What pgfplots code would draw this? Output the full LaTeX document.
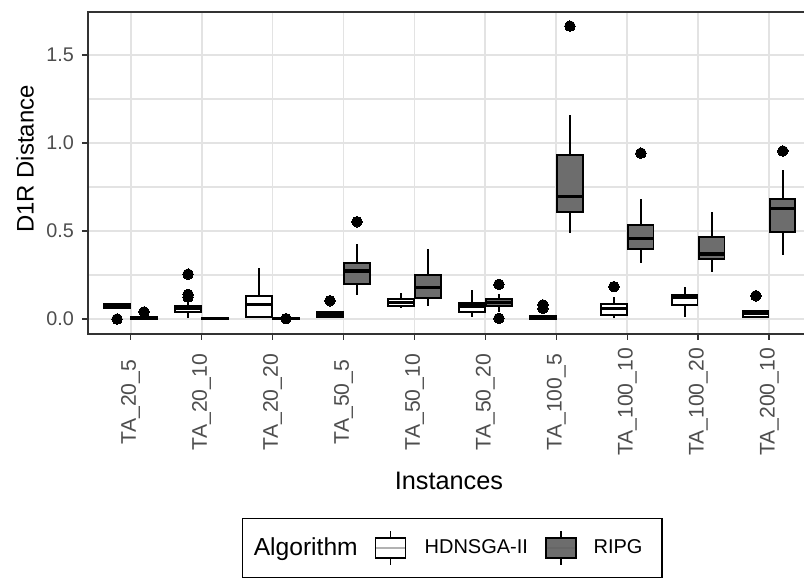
\documentclass[border=0pt]{standalone}
\usepackage{fontspec}
\setmainfont{Liberation Sans}
\usepackage{pgfplots}
\pgfplotsset{compat=1.18}
\usepgfplotslibrary{statistics}
\definecolor{ripg}{HTML}{6D6D6D}
\definecolor{gridc}{HTML}{E3E3E3}
\definecolor{tickc}{HTML}{4D4D4D}
\pgfplotsset{
  bx/.style={forget plot, draw=black, line width=0.85pt,
    mark=*, mark size=2.3pt, mark options={fill=black, draw=black, line width=0pt},
    boxplot/draw direction=y,
    boxplot/box extend=0.355,
    boxplot/whisker extend=0,
    boxplot/every median/.style={line width=1.4pt}},
  H/.style={bx, boxplot/every box/.style={fill=white}},
  R/.style={bx, boxplot/every box/.style={fill=ripg}},
}
\begin{document}
\begin{tikzpicture}
\begin{axis}[
  scale only axis, width=314.8pt, height=140pt,
  xmin=0.4, xmax=10.6, ymin=-0.085, ymax=1.745,
  clip=false,
  xtick={1,...,10},
  xticklabels={TA\_20\_5,TA\_20\_10,TA\_20\_20,TA\_50\_5,TA\_50\_10,TA\_50\_20,TA\_100\_5,TA\_100\_10,TA\_100\_20,TA\_200\_10},
  ytick={0,0.5,1,1.5}, yticklabels={0.0,0.5,1.0,1.5},
  minor ytick={0.25,0.75,1.25},
  grid=major, yminorgrids=true,
  major grid style={gridc, line width=0.85pt},
  minor grid style={gridc, line width=0.75pt},
  minor tick length=0pt,
  tick align=outside, tick pos=left, major tick length=2.6pt,
  tick style={black!80, line width=0.8pt},
  axis line style={draw=none},
  yticklabel style={font=\fontsize{8.6}{10}\selectfont, text=tickc},
  xticklabel style={font=\fontsize{9.2}{10}\selectfont, text=tickc, rotate=90, anchor=center},
  xticklabel shift=27pt,
  xlabel={Instances}, ylabel={D1R Distance},
  xlabel style={font=\fontsize{11}{12}\selectfont, at={(axis description cs:0.4986,-0.4565)}, anchor=center},
  ylabel style={font=\fontsize{10.4}{12}\selectfont, at={(axis description cs:-0.087,0.543)}, anchor=center, rotate=0},
  legend style={at={(0.503,-0.665)}, anchor=center, draw=black, line width=0.6pt,
    legend columns=3, font=\fontsize{8.7}{10}\selectfont,
    inner xsep=3pt, inner ysep=5pt,
    /tikz/every even column/.append style={column sep=5.4pt},
    /tikz/column 3/.append style={column sep=6pt},
    /tikz/column 5/.append style={column sep=5.4pt}},
]
\addlegendimage{empty legend}
\addlegendentry{\fontsize{10.7}{12}\selectfont Algorithm}
\addlegendimage{legend image code/.code={
  \draw[black, line width=0.7pt, fill=white] (0pt,-4.3pt) rectangle (13pt,4.3pt);
  \draw[black, line width=0.7pt] (6.5pt,4.3pt) -- (6.5pt,7.4pt) (6.5pt,-4.3pt) -- (6.5pt,-7.4pt);
  \draw[black!30, line width=0.9pt] (0.4pt,0pt) -- (12.6pt,0pt);}}
\addlegendentry{HDNSGA-II}
\addlegendimage{legend image code/.code={
  \draw[black, line width=0.7pt, fill=ripg] (0pt,-4.3pt) rectangle (13pt,4.3pt);
  \draw[black, line width=0.7pt] (6.5pt,4.3pt) -- (6.5pt,7.4pt) (6.5pt,-4.3pt) -- (6.5pt,-7.4pt);
  \draw[black!60, line width=0.9pt] (0.4pt,0pt) -- (12.6pt,0pt);}}
\addlegendentry{RIPG\hspace*{3.5pt}}

% HDNSGA-II
\addplot[H, boxplot prepared={draw position=0.81, lower whisker=0.06, lower quartile=0.065, median=0.075, upper quartile=0.085, upper whisker=0.09}] table[row sep=\\,y index=0] {y\\ 0.0\\};
\addplot[H, boxplot prepared={draw position=1.81, lower whisker=0.005, lower quartile=0.041, median=0.06, upper quartile=0.075, upper whisker=0.09}] table[row sep=\\,y index=0] {y\\ 0.125\\ 0.14\\ 0.255\\};
\addplot[H, boxplot prepared={draw position=2.81, lower whisker=0.005, lower quartile=0.013, median=0.083, upper quartile=0.132, upper whisker=0.29}] coordinates {};
\addplot[H, boxplot prepared={draw position=3.81, lower whisker=0.005, lower quartile=0.013, median=0.025, upper quartile=0.038, upper whisker=0.045}] table[row sep=\\,y index=0] {y\\ 0.104\\};
\addplot[H, boxplot prepared={draw position=4.81, lower whisker=0.06, lower quartile=0.074, median=0.095, upper quartile=0.114, upper whisker=0.146}] coordinates {};
\addplot[H, boxplot prepared={draw position=5.81, lower whisker=0.013, lower quartile=0.042, median=0.074, upper quartile=0.093, upper whisker=0.165}] coordinates {};
\addplot[H, boxplot prepared={draw position=6.81, lower whisker=0.0, lower quartile=0.002, median=0.007, upper quartile=0.017, upper whisker=0.025}] table[row sep=\\,y index=0] {y\\ 0.06\\ 0.08\\};
\addplot[H, boxplot prepared={draw position=7.81, lower whisker=0.005, lower quartile=0.023, median=0.06, upper quartile=0.085, upper whisker=0.127}] table[row sep=\\,y index=0] {y\\ 0.184\\};
\addplot[H, boxplot prepared={draw position=8.81, lower whisker=0.013, lower quartile=0.08, median=0.121, upper quartile=0.134, upper whisker=0.184}] coordinates {};
\addplot[H, boxplot prepared={draw position=9.81, lower whisker=0.005, lower quartile=0.013, median=0.032, upper quartile=0.047, upper whisker=0.05}] table[row sep=\\,y index=0] {y\\ 0.132\\};
% RIPG
\addplot[R, boxplot prepared={draw position=1.19, lower whisker=0.0, lower quartile=0.002, median=0.005, upper quartile=0.01, upper whisker=0.012}] table[row sep=\\,y index=0] {y\\ 0.04\\};
\addplot[R, boxplot prepared={draw position=2.19, lower whisker=0.0, lower quartile=0.002, median=0.004, upper quartile=0.007, upper whisker=0.012}] coordinates {};
\addplot[R, boxplot prepared={draw position=3.19, lower whisker=0.0, lower quartile=0.001, median=0.003, upper quartile=0.006, upper whisker=0.008}] table[row sep=\\,y index=0] {y\\ 0.002\\};
\addplot[R, boxplot prepared={draw position=4.19, lower whisker=0.138, lower quartile=0.199, median=0.273, upper quartile=0.318, upper whisker=0.426}] table[row sep=\\,y index=0] {y\\ 0.553\\};
\addplot[R, boxplot prepared={draw position=5.19, lower whisker=0.074, lower quartile=0.121, median=0.18, upper quartile=0.25, upper whisker=0.40}] coordinates {};
\addplot[R, boxplot prepared={draw position=6.19, lower whisker=0.042, lower quartile=0.074, median=0.095, upper quartile=0.114, upper whisker=0.145}] table[row sep=\\,y index=0] {y\\ 0.004\\ 0.197\\};
\addplot[R, boxplot prepared={draw position=7.19, lower whisker=0.49, lower quartile=0.61, median=0.695, upper quartile=0.934, upper whisker=1.159}] table[row sep=\\,y index=0] {y\\ 1.665\\};
\addplot[R, boxplot prepared={draw position=8.19, lower whisker=0.316, lower quartile=0.396, median=0.458, upper quartile=0.532, upper whisker=0.682}] table[row sep=\\,y index=0] {y\\ 0.943\\};
\addplot[R, boxplot prepared={draw position=9.19, lower whisker=0.265, lower quartile=0.343, median=0.369, upper quartile=0.466, upper whisker=0.606}] coordinates {};
\addplot[R, boxplot prepared={draw position=10.19, lower whisker=0.364, lower quartile=0.493, median=0.629, upper quartile=0.68, upper whisker=0.847}] table[row sep=\\,y index=0] {y\\ 0.955\\};

\draw[black!80, line width=0.9pt] (rel axis cs:1.02,0) -- (rel axis cs:0,0) -- (rel axis cs:0,1) -- (rel axis cs:1.02,1);
\coordinate (BBsw) at (rel axis cs:-0.1215,-0.767);
\coordinate (BBne) at (rel axis cs:0.9890,1.0373);
\end{axis}
\pgfresetboundingbox
\path[use as bounding box] (BBsw) rectangle (BBne);
\end{tikzpicture}
\end{document}
